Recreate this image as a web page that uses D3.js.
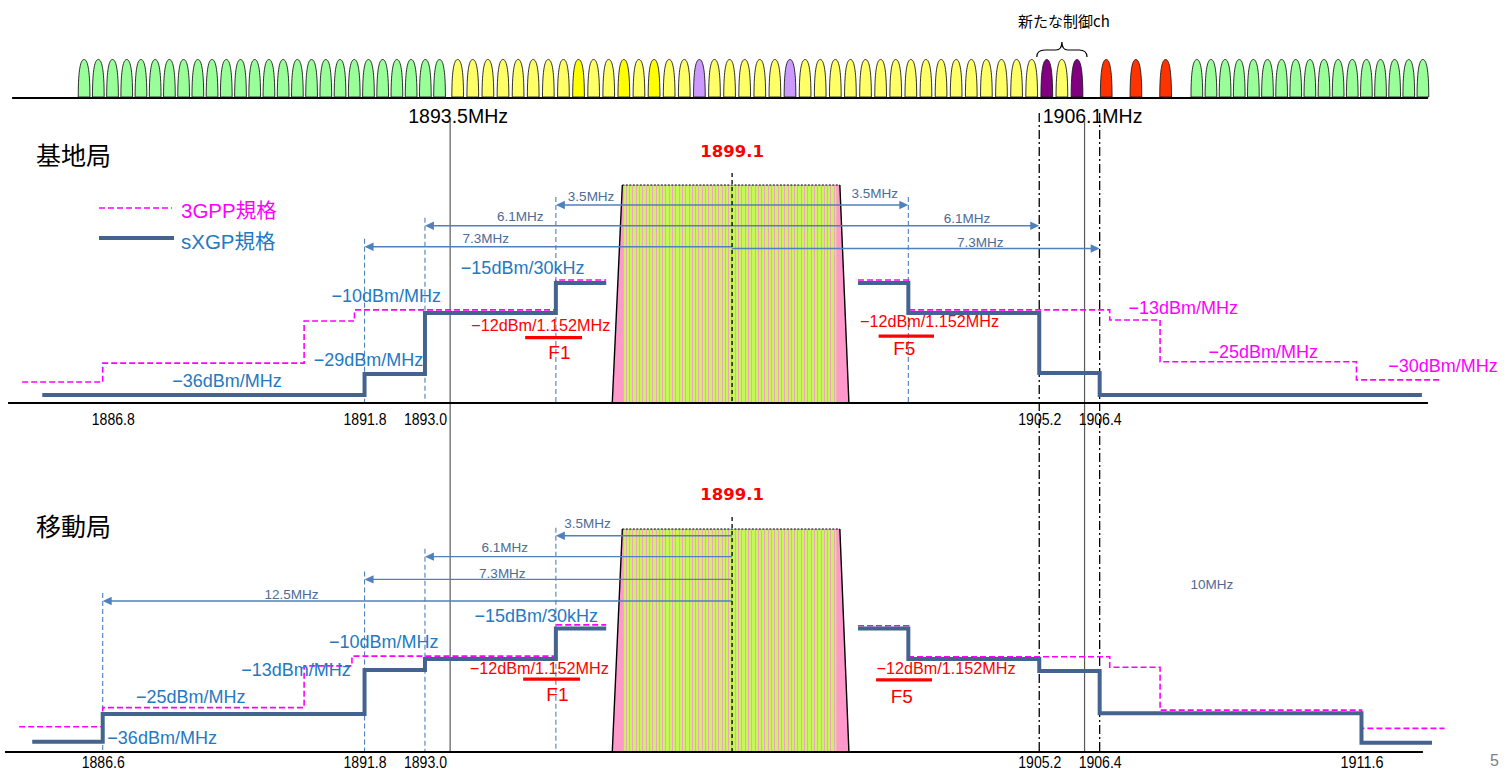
<!DOCTYPE html>
<html><head><meta charset="utf-8">
<script src="https://cdn.jsdelivr.net/npm/d3@7"></script>
<style>
html,body{margin:0;padding:0;background:#fff;overflow:hidden;}
svg{display:block;font-family:"Liberation Sans","Noto Sans CJK JP",sans-serif;}
</style></head><body>
<svg id="chart" width="1507" height="773"></svg>
<script>
// ================= DATA =================
const centreFreq = 1899.1;
const bandEdges = [1893.5, 1906.1];                 // thin solid lines + top labels
const bandEdgeLabels = ["1893.5MHz", "1906.1MHz"];
const guardEdges = [1905.2, 1906.4];                // dash-dot lines
// channel raster of top strip: first centre, last centre, colour code per channel
const chGreenLow  = [1886.23, 1893.29, "gggggggggggggggggggggggggg"];
const chSxgp      = [1893.65, 1905.95, "yyyyyyyyYyyYyYyylyyyyylyyyyyyyyyyyyyyyypyp"];
const chRed       = [1906.53, 1907.71, "rrr"];
const chGreenHigh = [1908.33, 1912.82, "ggggggggggggggggg"];
const newCtrlText = "新たな制御ch";
const newCtrlIdx  = [39, 41];
const stripExtent = [1884.80, 1912.92];

// ---- 基地局 (base station) : step masks [freq, level]  (level 0 = axis, 100 = carrier top)
const bsSxgpLow  = [[1885.4,3.7],[1891.8,13.3],[1893.0,41.3],[1895.6,55.0],[1896.6,55.0]];
const bsSxgpHigh = [[1901.6,55.0],[1902.6,41.3],[1905.2,13.8],[1906.4,3.7],[1912.8,3.7]];
const bs3gppLow  = [[1885.0,9.6],[1886.6,18.3],[1890.6,37.6],[1891.6,42.7],[1895.6,56.4],[1896.6,56.4]];
const bs3gppHigh = [[1901.6,56.4],[1902.6,42.7],[1906.6,38.1],[1907.6,18.9],[1911.5,10.6],[1913.2,10.6]];
const bsTicks = [1886.8, 1891.8, 1893.0, 1905.2, 1906.4];
const bsGuides = [1891.8, 1893.0, 1895.6, 1902.6];
const bsSpans = [["3.5MHz",1895.6],["6.1MHz",1893.0],["7.3MHz",1891.8],
                 ["3.5MHz",1902.6],["6.1MHz",1905.2],["7.3MHz",1906.4]];
const bsLabels = [
  ["−36dBm/MHz",1889.07,7.3,"blue"],["−29dBm/MHz",1891.88,17.0,"blue"],
  ["−10dBm/MHz",1892.23,46.3,"blue"],["−15dBm/30kHz",1894.94,59.2,"blue"],
  ["−12dBm/1.152MHz",1895.30,33.0,"red"],["−12dBm/1.152MHz",1903.02,35.0,"red"],
  ["−13dBm/MHz",1908.06,40.7,"magenta"],["−25dBm/MHz",1909.65,20.5,"magenta"],
  ["−30dBm/MHz",1913.22,14.4,"magenta"]];
const bsMarkers = [["F1",1894.99,1896.12,30.0,1895.67,20.2],["F5",1902.01,1903.11,30.7,1902.52,22.0]];
const bsAxis = [1884.72, 1912.92];

// ---- 移動局 (mobile station)
const msSxgpLow  = [[1885.2,4.6],[1886.6,17.0],[1891.8,36.8],[1893.0,41.7],[1895.6,55.4],[1896.6,55.4]];
const msSxgpHigh = [[1901.6,55.4],[1902.6,41.7],[1905.2,36.3],[1906.4,17.4],[1911.6,4.2],[1913.0,4.2]];
const ms3gppLow  = [[1884.94,11.3],[1886.6,19.9],[1890.6,38.6],[1891.55,43.0],[1895.6,57.0],[1896.6,57.0]];
const ms3gppHigh = [[1901.6,56.6],[1902.6,42.7],[1906.6,38.0],[1907.6,18.8],[1911.6,10.6],[1913.25,10.6]];
const msTicks = [1886.6, 1891.8, 1893.0, 1905.2, 1906.4, 1911.6];
const msGuides = [1886.6, 1891.8, 1893.0, 1895.6];
const msSpans = [["3.5MHz",1895.6],["6.1MHz",1893.0],["7.3MHz",1891.8],["12.5MHz",1886.6]];
const msLabels = [
  ["−36dBm/MHz",1887.78,3.6,"blue"],["−25dBm/MHz",1888.35,22.0,"blue"],
  ["−13dBm/MHz",1890.44,34.1,"blue"],["−10dBm/MHz",1892.18,46.6,"blue"],
  ["−15dBm/30kHz",1895.21,58.3,"blue"],
  ["−12dBm/1.152MHz",1895.27,35.0,"red"],["−12dBm/1.152MHz",1903.35,35.0,"red"],
  ["10MHz",1908.63,73.1,"span"]];
const msMarkers = [["F1",1894.95,1896.08,32.7,1895.63,22.9],["F5",1901.96,1903.07,32.3,1902.47,22.0]];
const msAxis = [1884.66, 1912.82];

// carrier block: bottom-left, top-left, top-right, bottom-right, striped part
const carrierEdges = [1896.72, 1896.92, 1901.24, 1901.42];
const carrierInner = [1896.95, 1901.17];

// ================= LAYOUT / STYLE =================
const W = 1507, H = 773;
const C = {sxgp:"#44648f", gpp:"#ff00ff", blue:"#2479c2", red:"#ff0000", magenta:"#ff00ff",
           span:"#4d6b96", arrow:"#4f81bd", guide:"#4f81bd",
           g:"#99ff99", y:"#ffff66", Y:"#ffff00", l:"#cc99ff", p:"#800080", r:"#ff3300"};
const x = d3.scaleLinear().domain([1884.56, 1914.49]).range([0, W]);
const CJK = '"Noto Sans CJK JP","Liberation Sans",sans-serif';

const svg = d3.select("#chart");

// ---------- top channel strip ----------
const stripBase = 98, bumpH = 38.5, bumpW = 11.7;
const strip = svg.append("g");
const chans = [];
[chGreenLow, chSxgp, chRed, chGreenHigh].forEach((grp, gi) => {
  const [lo, hi, codes] = grp, n = codes.length;
  d3.range(n).forEach(i => chans.push({f: lo + (hi-lo)*i/(n-1), c: codes[i], gi, i}));
});
strip.append("line").attr("x1",x(stripExtent[0])).attr("x2",x(stripExtent[1]))
  .attr("y1",stripBase).attr("y2",stripBase).attr("stroke","#000").attr("stroke-width",2);
strip.selectAll("path.ch").data(chans).join("path").attr("class","ch")
  .attr("d", d => {
    const cx = x(d.f), w = bumpW/2, b = stripBase - 1, t = stripBase - bumpH;
    return `M${cx-w},${b} C${cx-w},${b-(b-t)*0.78} ${cx-w*0.55},${t} ${cx},${t} C${cx+w*0.55},${t} ${cx+w},${b-(b-t)*0.78} ${cx+w},${b} Z`;
  })
  .attr("fill", d => C[d.c]).attr("stroke","#1a1a1a").attr("stroke-width",0.9);
// brace + label
{
  const sx = chans.filter(d => d.gi === 1);
  const x0 = x(sx[newCtrlIdx[0]].f) - 10, x1 = x(sx[newCtrlIdx[1]].f) + 10, xm = (x0+x1)/2;
  const yb = 57, ym = 50, yt = 42;
  strip.append("path").attr("fill","none").attr("stroke","#000").attr("stroke-width",1.2)
    .attr("d",`M${x0},${yb} Q${x0},${ym} ${x0+8},${ym} L${xm-6},${ym} Q${xm},${ym} ${xm},${yt} Q${xm},${ym} ${xm+6},${ym} L${x1-8},${ym} Q${x1},${ym} ${x1},${yb}`);
  strip.append("text").style("font-family",CJK).attr("x",xm+2).attr("y",27).attr("text-anchor","middle")
    .attr("font-size",15).attr("fill","#000").text(newCtrlText);
}
// band edge labels
svg.selectAll("text.band").data(bandEdges).join("text").attr("class","band")
  .attr("x", d => x(d) + 8).attr("y", 123).attr("text-anchor","middle")
  .attr("font-size",19.5).attr("fill","#000").text((d,i) => bandEdgeLabels[i]);

// ---------- full-height reference lines ----------
svg.selectAll("line.edge").data(bandEdges).join("line").attr("class","edge")
  .attr("x1",d=>x(d)).attr("x2",d=>x(d)).attr("y1",120).attr("y2",752)
  .attr("stroke","#5a5a5a").attr("stroke-width",1.2);
svg.selectAll("line.guard").data(guardEdges).join("line").attr("class","guard")
  .attr("x1",d=>x(d)).attr("x2",d=>x(d)).attr("y1",113).attr("y2",752)
  .attr("stroke","#000").attr("stroke-width",1.3).attr("stroke-dasharray","9,3,2,3");

// ---------- panel drawing ----------
function drawPanel(cfg) {
  const y = d3.scaleLinear().domain([0,100]).range([cfg.base, cfg.top]);
  const g = svg.append("g");
  const line = d3.line().x(d => x(d[0])).y(d => y(d[1])).curve(d3.curveStepAfter);

  // carrier block
  const [bl, tl, tr, br] = carrierEdges;
  g.append("path").attr("fill","#ff99cc")
    .attr("d",`M${x(bl)},${y(0)} L${x(tl)},${y(100)} L${x(tr)},${y(100)} L${x(br)},${y(0)} Z`);
  const ix0 = x(carrierInner[0]), ix1 = x(carrierInner[1]);
  g.append("rect").attr("x",ix0).attr("y",y(100)+1).attr("width",ix1-ix0)
    .attr("height",y(0)-y(100)-1).attr("fill","#c8f55a");
  g.selectAll("rect.stripe").data(d3.range(ix0 + 2, ix1 - 1, 3.3)).join("rect").attr("class","stripe")
    .attr("x",d=>Math.round(d)).attr("y",y(100)+1).attr("width",1).attr("height",y(0)-y(100)-1)
    .attr("fill","#f2a2c6").attr("shape-rendering","crispEdges");
  g.append("path").attr("fill","none").attr("stroke","#000").attr("stroke-width",1.4)
    .attr("d",`M${x(bl)},${y(0)} L${x(tl)},${y(100)} M${x(tr)},${y(100)} L${x(br)},${y(0)}`);
  g.append("line").attr("x1",x(tl)).attr("x2",x(tr)).attr("y1",y(100)).attr("y2",y(100))
    .attr("stroke","#000").attr("stroke-width",1).attr("stroke-dasharray","2,1.5");

  // guide lines (blue dashed)
  const rowOf = {};
  cfg.spans.forEach((s,i) => { rowOf[s[1]] = cfg.rows[i]; });
  g.selectAll("line.guide").data(cfg.guides).join("line")
    .attr("x1",d=>x(d)).attr("x2",d=>x(d)).attr("y1",d=>y(rowOf[d]) - 8).attr("y2",y(0))
    .attr("stroke",C.guide).attr("stroke-width",1.1).attr("stroke-dasharray","5,3");

  // 3GPP masks
  cfg.gpp.forEach(run => g.append("path").attr("d",line(run)).attr("fill","none")
    .attr("stroke",C.gpp).attr("stroke-width",1.6).attr("stroke-dasharray","6,3"));
  // sXGP masks
  cfg.sxgp.forEach(run => g.append("path").attr("d",line(run)).attr("fill","none")
    .attr("stroke",C.sxgp).attr("stroke-width",4));

  // span arrows
  const xc = x(centreFreq);
  cfg.spans.forEach((s,i) => {
    const yy = y(cfg.rows[i]), xt = x(s[1]), dir = xt < xc ? -1 : 1;
    g.append("line").attr("x1",xc).attr("x2",xt - dir*8).attr("y1",yy).attr("y2",yy)
      .attr("stroke",C.arrow).attr("stroke-width",1.4);
    g.append("path").attr("fill",C.arrow)
      .attr("d",`M${xt},${yy} L${xt-dir*9},${yy-4.2} L${xt-dir*9},${yy+4.2} Z`);
    g.append("text").attr("x", xc + (xt-xc)*cfg.labelAt[i]).attr("y", yy + cfg.labelDy[i])
      .attr("text-anchor","middle").attr("font-size",13.5).attr("fill",C.span).text(s[0]);
  });

  // centre dashed line + label
  g.append("line").attr("x1",xc).attr("x2",xc).attr("y1",y(100)-12).attr("y2",y(0))
    .attr("stroke","#000").attr("stroke-width",1.3).attr("stroke-dasharray","4,3");
  g.append("text").attr("x",xc).attr("y",y(cfg.centreLabelLevel)).attr("text-anchor","middle")
    .style("font-family","'DejaVu Sans',sans-serif").attr("font-weight","bold").attr("font-size",16.5)
    .attr("fill",C.red).text(d3.format(".1f")(centreFreq));

  // level labels
  g.selectAll("text.lvl").data(cfg.labels).join("text").attr("class","lvl")
    .attr("x",d=>x(d[1])).attr("y",d=>y(d[2])).attr("text-anchor","middle")
    .attr("font-size",d => d[3]==="red" ? 16.2 : d[3]==="span" ? 13.5 : 18)
    .attr("fill",d=>C[d[3]]).text(d=>d[0]);

  // F markers
  cfg.markers.forEach(m => {
    g.append("line").attr("x1",x(m[1])).attr("x2",x(m[2])).attr("y1",y(m[3])).attr("y2",y(m[3]))
      .attr("stroke",C.red).attr("stroke-width",3.2);
    g.append("text").attr("x",x(m[4])).attr("y",y(m[5])).attr("text-anchor","middle")
      .attr("font-size",19).attr("fill",C.red).text(m[0]);
  });

  // axis
  g.append("line").attr("x1",x(cfg.axis[0])).attr("x2",x(cfg.axis[1])).attr("y1",y(0)).attr("y2",y(0))
    .attr("stroke","#000").attr("stroke-width",2.2);
  const ax = g.append("g").attr("transform",`translate(0,${y(0)})`)
    .call(d3.axisBottom(x).tickValues(cfg.ticks).tickSize(0).tickFormat(d3.format(".1f")));
  ax.attr("font-family",null);
  ax.select(".domain").remove();
  ax.selectAll("text").attr("dy",null).attr("y",cfg.tickDy).attr("font-size",16)
    .style("font-family","'Liberation Sans',sans-serif").attr("fill","#000")
    .attr("textLength",43).attr("lengthAdjust","spacingAndGlyphs");

  // title
  g.append("text").style("font-family",CJK).attr("x",36).attr("y",cfg.titleY).attr("font-size",25)
    .attr("fill","#000").text(cfg.title);
  return {g, y};
}

drawPanel({
  base:403, top:185, title:"基地局", titleY:165,
  sxgp:[bsSxgpLow, bsSxgpHigh], gpp:[bs3gppLow, bs3gppHigh],
  ticks:bsTicks, tickDy:22, guides:bsGuides, spans:bsSpans,
  rows:[90.8,81.3,71.7,90.8,81.3,70.9],
  labelAt:[0.80,0.69,0.67,0.81,0.765,0.675], labelDy:[-4,-5,-4,-7,-3,-1],
  labels:bsLabels, markers:bsMarkers, axis:bsAxis, centreLabelLevel:112.8
});
drawPanel({
  base:752, top:529, title:"移動局", titleY:536,
  sxgp:[msSxgpLow, msSxgpHigh], gpp:[ms3gppLow, ms3gppHigh],
  ticks:msTicks, tickDy:16, guides:msGuides, spans:msSpans,
  rows:[97.0,87.6,77.4,67.7],
  labelAt:[0.82,0.74,0.625,0.70], labelDy:[-8,-5,-1,-2],
  labels:msLabels, markers:msMarkers, axis:msAxis, centreLabelLevel:113.0
});

// legend (base station panel)
const legend = svg.append("g").attr("transform","translate(99,0)");
legend.append("line").attr("x1",0).attr("x2",73).attr("y1",208).attr("y2",208)
  .attr("stroke",C.gpp).attr("stroke-width",1.6).attr("stroke-dasharray","6,3");
legend.append("text").attr("x",82).attr("y",218).attr("font-size",20.5).attr("fill",C.magenta).text("3GPP規格");
legend.append("line").attr("x1",0).attr("x2",75).attr("y1",238).attr("y2",238)
  .attr("stroke",C.sxgp).attr("stroke-width",4);
legend.append("text").attr("x",82).attr("y",249).attr("font-size",20.5).attr("fill",C.blue).text("sXGP規格");

// page number
svg.append("text").attr("x",1490).attr("y",766).attr("font-size",16).attr("fill","#808080").text("5");
</script>
</body></html>
